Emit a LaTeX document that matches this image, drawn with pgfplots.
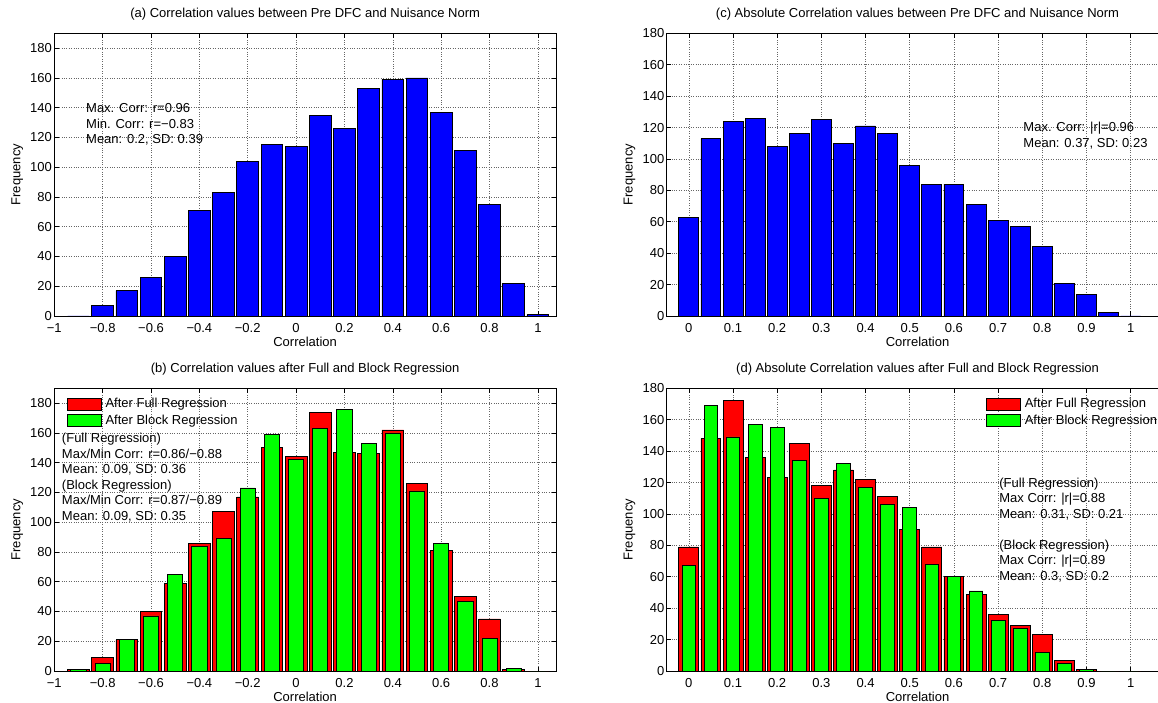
\documentclass[border=0pt]{standalone}
\usepackage{fontspec}
\setmainfont{Liberation Sans}
\usepackage{pgfplots}
\pgfplotsset{compat=1.18}
\pgfplotsset{
  panel/.style={
    scale only axis, width=501.7pt, height=282.7pt,
    axis line style={line width=0.8pt},
    tick style={black, line width=0.6pt},
    tick align=inside,
    major tick length=4.5pt,
    grid=major,
    grid style={dotted, line width=0.6pt, black!60},
    ymin=0,
    xlabel={Correlation}, ylabel={Frequency},
    xlabel style={at={(axis description cs:0.5,-0.091)}, anchor=center},
    ylabel style={at={(axis description cs:-0.074,0.5)}, anchor=center},
    title style={at={(axis description cs:0.5,1.046)}, anchor=center},
    xticklabel style={anchor=center, yshift=-12.3pt},
    yticklabel style={anchor=east, inner sep=0pt, xshift=-2.2pt},
    clip=true,
  },
  rectlegend/.style={legend image code/.code={\draw[##1, line width=0.8pt] (0pt,-6pt) rectangle (34pt,6pt); \path (37pt,0pt);}},
  lowx/.style={xmin=-1, xmax=1.075,
    xtick={-1,-0.8,-0.6,-0.4,-0.2,0,0.2,0.4,0.6,0.8,1},
    xticklabels={−1,−0.8,−0.6,−0.4,−0.2,0,0.2,0.4,0.6,0.8,1}},
  absx/.style={xmin=-0.05, xmax=1.0855,
    xtick={0,0.1,0.2,0.3,0.4,0.5,0.6,0.7,0.8,0.9,1},
    xticklabels={0,0.1,0.2,0.3,0.4,0.5,0.6,0.7,0.8,0.9,1}},
  y190/.style={ymax=190, ytick={0,20,40,60,80,100,120,140,160,180},
    yticklabels={0,20,40,60,80,100,120,140,160,180}},
  y180/.style={ymax=180, ytick={0,20,40,60,80,100,120,140,160,180},
    yticklabels={0,20,40,60,80,100,120,140,160,180}},
  leg/.style={legend style={at={(rel axis cs:0,1)}, anchor=north west, draw=none, fill=none,
    inner sep=0pt, outer sep=0pt, xshift=#1, yshift=-9pt, row sep=3pt,
    nodes={inner sep=1pt}}, legend cell align=left},
}
\begin{document}
\fontsize{13pt}{15.5pt}\selectfont
\begin{tikzpicture}
% (a)
\begin{axis}[panel, lowx, y190, at={(54.3pt,386pt)}, anchor=south west,
  title={(a) Correlation values between Pre DFC and Nuisance Norm}]
\addplot[ybar, bar width=0.09, bar shift=0pt, fill=blue, draw=black, line width=0.8pt] coordinates {
(-0.9,0) (-0.8,7) (-0.7,17) (-0.6,26) (-0.5,40) (-0.4,71) (-0.3,83) (-0.2,104) (-0.1,115) (0,114)
(0.1,135) (0.2,126) (0.3,153) (0.4,159) (0.5,160) (0.6,137) (0.7,111) (0.8,75) (0.9,22) (1.0,1)};
\node[anchor=west, align=left, inner sep=0pt] at (axis cs:-0.869,128.7)
  {Max. Corr: r=0.96\\Min. Corr: r=−0.83\\Mean: 0.2, SD: 0.39};
\end{axis}
% (c)
\begin{axis}[panel, absx, y180, at={(666.7pt,386pt)}, anchor=south west,
  title={(c) Absolute Correlation values between Pre DFC and Nuisance Norm}]
\addplot[ybar, bar width=0.045, bar shift=0pt, fill=blue, draw=black, line width=0.8pt] coordinates {
(0,63) (0.05,113) (0.1,124) (0.15,126) (0.2,108) (0.25,116) (0.3,125) (0.35,110) (0.4,121) (0.45,116)
(0.5,96) (0.55,84) (0.6,84) (0.65,71) (0.7,61) (0.75,57) (0.8,44) (0.85,21) (0.9,14) (0.95,2) (1.0,0)};
\node[anchor=west, align=left, inner sep=0pt] at (axis cs:0.757,114.9)
  {Max. Corr: |r|=0.96\\Mean: 0.37, SD: 0.23};
\end{axis}
% (b)
\begin{axis}[panel, lowx, y190, at={(54.3pt,31pt)}, anchor=south west, leg=12.4pt,
  title={(b) Correlation values after Full and Block Regression}]
\addplot[ybar, bar width=0.09, bar shift=0pt, fill=red, draw=black, line width=0.8pt, rectlegend] coordinates {
(-0.9,1) (-0.8,9) (-0.7,21) (-0.6,40) (-0.5,59) (-0.4,86) (-0.3,107) (-0.2,117) (-0.1,150) (0,144)
(0.1,174) (0.2,147) (0.3,146) (0.4,162) (0.5,126) (0.6,81) (0.7,50) (0.8,35) (0.9,1) (1.0,0)};
\addplot[ybar, bar width=0.063, bar shift=0pt, fill=green, draw=black, line width=0.8pt, rectlegend] coordinates {
(-0.9,1) (-0.8,5) (-0.7,21) (-0.6,37) (-0.5,65) (-0.4,84) (-0.3,89) (-0.2,123) (-0.1,159) (0,142)
(0.1,163) (0.2,176) (0.3,153) (0.4,160) (0.5,121) (0.6,86) (0.7,47) (0.8,22) (0.9,2) (1.0,0)};
\legend{After Full Regression, After Block Regression}
\node[anchor=west, align=left, inner sep=0pt] at (axis cs:-0.969,130.05)
  {(Full Regression)\\Max/Min Corr: r=0.86/−0.88\\Mean: 0.09, SD: 0.36\\(Block Regression)\\Max/Min Corr: r=0.87/−0.89\\Mean: 0.09, SD: 0.35};
\end{axis}
% (d)
\begin{axis}[panel, absx, y180, at={(666.7pt,31pt)}, anchor=south west, leg=319.3pt,
  title={(d) Absolute Correlation values after Full and Block Regression}]
\addplot[ybar, bar width=0.045, bar shift=0pt, fill=red, draw=black, line width=0.8pt, rectlegend] coordinates {
(0,79) (0.05,148) (0.1,172) (0.15,136) (0.2,123) (0.25,145) (0.3,118) (0.35,128) (0.4,122) (0.45,111)
(0.5,90) (0.55,79) (0.6,60) (0.65,49) (0.7,36) (0.75,29) (0.8,23) (0.85,7) (0.9,1) (0.95,0) (1.0,0)};
\addplot[ybar, bar width=0.031, bar shift=0pt, fill=green, draw=black, line width=0.8pt, rectlegend] coordinates {
(0,67) (0.05,169) (0.1,149) (0.15,157) (0.2,155) (0.25,134) (0.3,110) (0.35,132) (0.4,117) (0.45,106)
(0.5,104) (0.55,68) (0.6,60) (0.65,51) (0.7,32) (0.75,27) (0.8,12) (0.85,5) (0.9,1) (0.95,0) (1.0,0)};
\legend{After Full Regression, After Block Regression}
\node[anchor=west, align=left, inner sep=0pt] at (axis cs:0.7025,90.0)
  {(Full Regression)\\Max Corr: |r|=0.88\\Mean: 0.31, SD: 0.21\\[15.5pt](Block Regression)\\Max Corr: |r|=0.89\\Mean: 0.3, SD: 0.2};
\end{axis}
\pgfresetboundingbox
\path[use as bounding box] (0pt,0pt) rectangle (1158pt,702pt);
\end{tikzpicture}
\end{document}
